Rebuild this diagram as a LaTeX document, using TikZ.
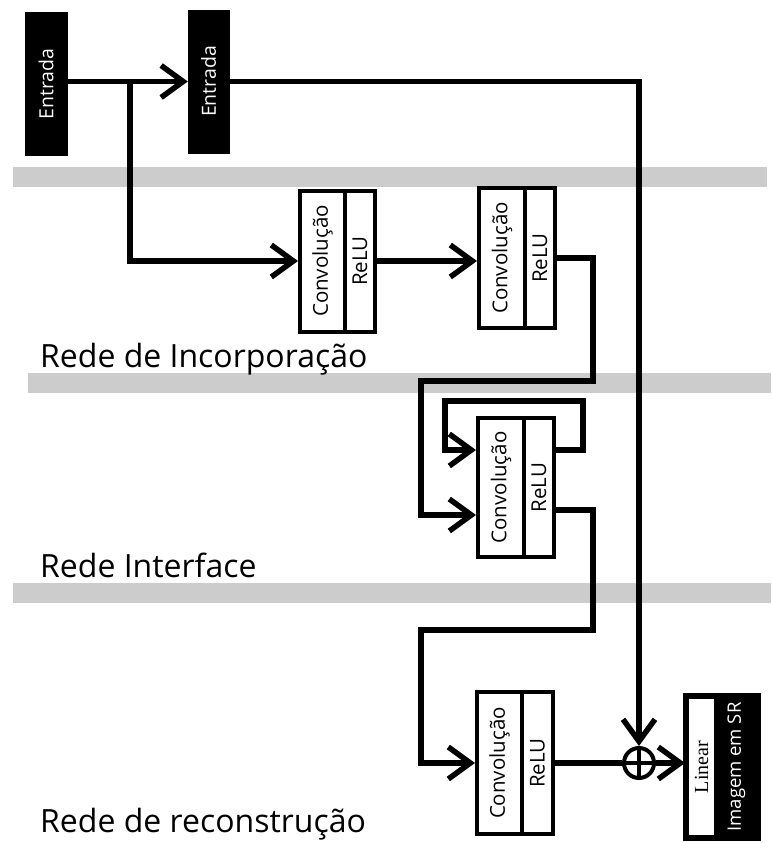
\documentclass[tikz,border=0pt]{standalone}
\usepackage{graphicx}
\usepackage{fontspec}
\setmainfont{Open Sans}
\newfontfamily\serifface{Liberation Serif}
\usetikzlibrary{arrows.meta,calc}

\begin{document}
\begin{tikzpicture}[x=1pt,y=-1pt,
  wire/.style={line width=5.5pt},
  tipped/.style={wire,-{Straight Barb[length=22pt,width=32pt,line width=5.5pt]}},
  band/.style={fill=black!20,draw=none},
  boxfont/.style={font=\fontsize{20.5}{24}\selectfont},
  blackbox/.style={fill=black,draw=black,text=white,inner sep=0pt,
    minimum width=42pt,minimum height=143pt,font=\fontsize{19.5}{23}\selectfont},
  convpart/.style={draw,line width=4pt,fill=white,inner sep=0pt,
    minimum width=45pt,minimum height=141pt,boxfont},
  relupart/.style={convpart,minimum width=30pt},
  title/.style={anchor=base west,inner sep=0pt,font=\fontsize{32}{38}\selectfont},
  sumnode/.style={circle,draw,line width=4pt,fill=white,minimum size=30pt,inner sep=0pt,
    path picture={\draw[line width=4pt]
      (path picture bounding box.north) -- (path picture bounding box.south)
      (path picture bounding box.west) -- (path picture bounding box.east);}}
]
\useasboundingbox (0,0) rectangle (771,843);

% grey separators between the stages
\fill[band] (13,167) rectangle (767,187);
\fill[band] (28,373) rectangle (771,393);
\fill[band] (13,583) rectangle (771,603);

% inputs
\node[blackbox] (e1) at (46,84) {\rotatebox{90}{Entrada}};
\node[blackbox,minimum width=41pt] (e2) at (208.5,81.5) {\rotatebox{90}{Entrada}};

% stage 1: two convolution blocks
\node[convpart,minimum width=45pt] (c1) at (322.5,261) {\rotatebox{90}{Convolução}};
\node[relupart] (r1) at (360,261) {\rotatebox{90}{ReLU}};
\node[convpart,minimum width=46pt,minimum height=140pt] (c2) at (502,258) {\rotatebox{90}{Convolução}};
\node[relupart,minimum height=140pt] (r2) at (540,258) {\rotatebox{90}{ReLU}};

% stage 2: recursive block
\node[convpart,minimum width=46pt,minimum height=139pt] (c3) at (501,487.5) {\rotatebox{90}{Convolução}};
\node[relupart,minimum height=139pt] (r3) at (539,487.5) {\rotatebox{90}{ReLU}};

% stage 3: reconstruction
\node[convpart,minimum width=45pt,minimum height=142pt] (c4) at (499.5,763) {\rotatebox{90}{Convolução}};
\node[relupart,minimum width=31pt,minimum height=142pt] (r4) at (537.5,763) {\rotatebox{90}{ReLU}};

\node[sumnode] (plus) at (639,763) {};

\node[convpart,minimum width=29pt,minimum height=140pt,font=\serifface\fontsize{20}{23}\selectfont]
  (lin) at (701.5,767) {\rotatebox{90}{Linear}};
\node[blackbox,minimum width=41pt,minimum height=140pt,line width=4pt,font=\fontsize{18.5}{22}\selectfont]
  (sr) at (736.5,767) {\rotatebox{90}{Imagem em SR}};
\draw[line width=4pt] (lin.north west) rectangle (sr.south east);

% stage titles
\node[title] (t1) at (40,367) {Rede de Incorporação};
\node[title] (t2) at (40,577) {Rede Interface};
\node[title] (t3) at (40,832) {Rede de reconstrução};

% routing points
\coordinate (split) at (130,81.5);
\coordinate (d1) at (593,381);
\coordinate (d2) at (421,515);
\coordinate (fbR) at (583,450);
\coordinate (fbL) at (445,401);
\coordinate (o3) at (593,630);
\coordinate (d3) at (421,630);

% connectors
\draw[tipped] (e1.east |- e2.west) -- (e2.west);
\draw[tipped] (split) |- (c1.west);
\draw[tipped] (e2.east) -| (plus.north);
\draw[tipped] (r1.east) -- (r1.east -| c2.west);
\draw[tipped] (r2.east) -| (d1) -| (d2) -- (d2 -| c3.west);
\draw[tipped] (r3.east |- fbR) -- (fbR) |- (fbL) |- (fbR -| c3.west);
\draw[tipped] ($(r3.east)+(0,22.5)$) -| (o3) -- (d3) |- (c4.west);
\draw[wire] (r4.east) -- (plus.west);
\draw[tipped] (plus.east) -- (plus.east -| lin.west);
\end{tikzpicture}
\end{document}
